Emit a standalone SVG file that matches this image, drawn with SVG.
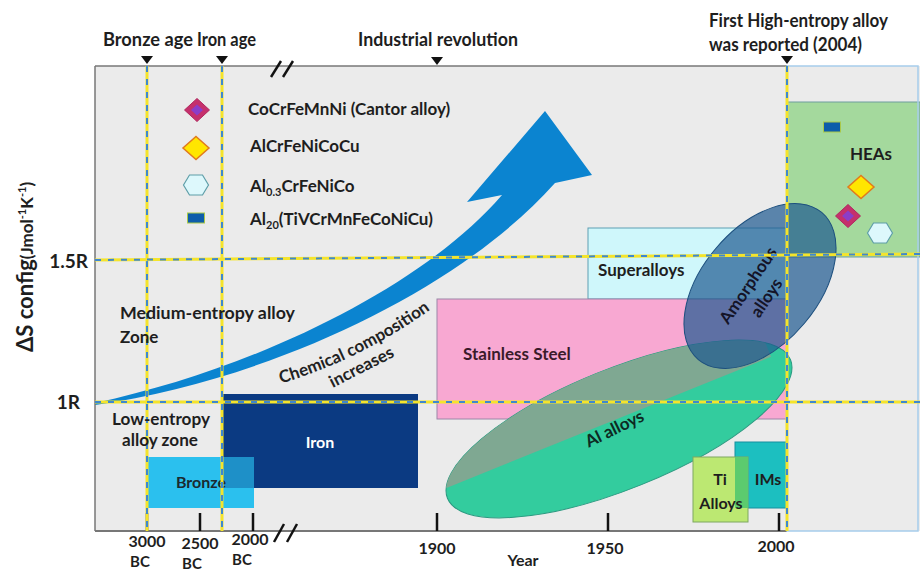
<svg xmlns="http://www.w3.org/2000/svg" width="920" height="571" viewBox="0 0 920 571">
<style>
text{font-family:Lato,"Liberation Sans","DejaVu Sans",sans-serif;font-weight:700;fill:#1e1e1e;}
.t18{font-size:18px;}
.t17{font-size:17px;}
.t16{font-size:16px;}
.t15{font-size:15px;}
.ax{stroke:#777;stroke-width:1.5;fill:none;}
.tick{stroke:#111;stroke-width:2.5;}
.dy{stroke:#F4E42C;stroke-width:3;fill:none;}
.db{stroke:#3E88CF;stroke-width:2;stroke-dasharray:6 7;fill:none;}
.brk{stroke:#111;stroke-width:2.5;}
</style>
<defs>
<g id="cantor"><polygon points="0,-11.5 12.5,0 0,11.5 -12.5,0" fill="#C5306C" stroke="#B0285E" stroke-width="1"/><polygon points="0,-5.5 6,0 0,5.5 -6,0" fill="#8B3DC8"/></g>
<g id="ydia"><polygon points="0,-11.5 13,0 0,11.5 -13,0" fill="#FFE600" stroke="#E07A1E" stroke-width="1.5"/></g>
<g id="hex"><polygon points="-12.5,0 -6.5,-10 6.5,-10 12.5,0 6.5,10 -6.5,10" fill="#DDF8FC" stroke="#5E9EA8" stroke-width="1.2"/></g>
<g id="brect"><rect x="-8.5" y="-5" width="17" height="10" fill="#0D5DAA" stroke="#A9C84A" stroke-width="1"/></g>
<clipPath id="pinkClip"><rect x="437" y="299" width="350" height="120"/></clipPath>
</defs>

<!-- background plot area -->
<rect x="0" y="0" width="920" height="571" fill="#fff"/>
<rect x="95" y="66" width="825" height="465" fill="#EBEBEB"/>

<!-- boxes -->
<g id="node-hea"><rect x="787" y="102" width="133" height="155" fill="#A4D99D" stroke="#6E9E9E" stroke-width="1"/><text class="t17" x="871" y="160" text-anchor="middle">HEAs</text></g>
<g id="node-superalloys"><rect x="588" y="228" width="199" height="71" fill="#CFF7FB" stroke="#5F9FB4" stroke-width="1"/><text class="t17" x="598" y="276">Superalloys</text></g>
<g id="node-stainless"><rect x="437" y="299" width="350" height="120" fill="#F8A8D2" stroke="#9C86A8" stroke-width="1"/><text class="t17" x="463" y="360" style="fill:#3a1a2a">Stainless Steel</text></g>
<g id="node-al">
<ellipse cx="619" cy="429" rx="185" ry="60" transform="rotate(-22 619 429)" fill="#33CC9E" stroke="#2a9a80" stroke-width="1"/>
<ellipse cx="619" cy="429" rx="185" ry="60" transform="rotate(-22 619 429)" fill="#7FA892" clip-path="url(#pinkClip)"/>
<text class="t17" x="617" y="434" text-anchor="middle" transform="rotate(-26 617 434)" style="fill:#0d2a22">Al alloys</text>
</g>
<g id="node-ims"><rect x="735" y="442" width="52" height="66" fill="#1CBFC0" stroke="#1590A0" stroke-width="1"/><text class="t16" x="768" y="485" text-anchor="middle">IMs</text></g>
<g id="node-ti"><rect x="693" y="457" width="55" height="65" fill="#BCE872" stroke="#7FA860" stroke-width="1"/><rect x="735" y="457" width="13" height="51" fill="#5CCB6E"/><text class="t16" x="720" y="485" text-anchor="middle">Ti</text><text class="t16" x="721" y="509" text-anchor="middle">Alloys</text></g>
<g id="node-iron"><rect x="223" y="394" width="195" height="94" fill="#0B3A82"/><text class="t16" x="320" y="448" text-anchor="middle" style="fill:#fff">Iron</text></g>
<g id="node-bronze"><rect x="148" y="457" width="106" height="51" fill="#2BC0EE"/><rect x="223" y="457" width="31" height="31" fill="#1E90C8"/><text class="t16" x="201" y="488" text-anchor="middle" style="fill:#1a2a30">Bronze</text></g>
<g id="node-amorphous">
<ellipse cx="760" cy="286" rx="96" ry="58" transform="rotate(-50 760 286)" fill="#1C5890" fill-opacity="0.7" stroke="#1C4F7E" stroke-width="1"/>
<g transform="translate(758 292) rotate(-56)"><text class="t17" x="0" y="-6" text-anchor="middle" style="fill:#141428">Amorphous</text><text class="t17" x="0" y="16" text-anchor="middle" style="fill:#141428">alloys</text></g>
</g>

<!-- arrow -->
<g id="node-arrow">
<path d="M95,403 C250,370 420,290 502,195 L467,202 L545,111 L592,175 L555,183 C460,290 270,380 95,405 Z" fill="#0B84D0"/>
<path id="curvePath" d="M272,386 Q360,362 438,304" fill="none"/>
<text class="t17" style="fill:#222"><textPath href="#curvePath" startOffset="50%" text-anchor="middle">Chemical composition</textPath></text>
<text class="t17" x="364" y="372" text-anchor="middle" transform="rotate(-27 364 372)" style="fill:#222">increases</text>
</g>

<!-- axes and frame -->
<g id="axes">
<line class="ax" x1="95" y1="66" x2="787" y2="66"/>
<line class="ax" x1="95" y1="66" x2="95" y2="531"/>
<line x1="95" y1="531" x2="787" y2="531" stroke="#777" stroke-width="2"/>
<rect x="787" y="66" width="131" height="465" fill="none" stroke="#A6CDEB" stroke-width="1.5"/>
<line class="tick" x1="147" y1="513" x2="147" y2="531"/>
<line class="tick" x1="200" y1="513" x2="200" y2="531"/>
<line class="tick" x1="253" y1="513" x2="253" y2="531"/>
<line class="tick" x1="437" y1="513" x2="437" y2="531"/>
<line class="tick" x1="608" y1="513" x2="608" y2="531"/>
<line class="tick" x1="779" y1="513" x2="779" y2="531"/>
<line class="brk" x1="271" y1="77" x2="281" y2="61"/><line class="brk" x1="283" y1="77" x2="293" y2="61"/>
<line class="brk" x1="274" y1="542" x2="284" y2="524"/><line class="brk" x1="287" y1="542" x2="297" y2="524"/>
<polygon points="141,56 153,56 147,64" fill="#111"/>
<polygon points="216,56 228,56 222,64" fill="#111"/>
<polygon points="431,57 443,57 437,65" fill="#111"/>
<polygon points="781,56 793,56 787,64" fill="#111"/>
</g>

<!-- dashed guide lines -->
<g id="connectors">
<line class="dy" x1="147" y1="66" x2="147" y2="531"/><line class="db" x1="147" y1="66" x2="147" y2="531"/>
<line class="dy" x1="222" y1="66" x2="222" y2="531"/><line class="db" x1="222" y1="66" x2="222" y2="531"/>
<line class="dy" x1="787" y1="66" x2="787" y2="531"/><line class="db" x1="787" y1="66" x2="787" y2="531"/>
<line class="dy" x1="95" y1="260" x2="920" y2="254"/><line class="db" x1="95" y1="260" x2="920" y2="254"/>
<line class="dy" x1="95" y1="402" x2="920" y2="402"/><line class="db" x1="95" y1="402" x2="920" y2="402"/>
</g>

<!-- legend -->
<g id="legend">
<use href="#cantor" x="197" y="110"/>
<use href="#ydia" x="196" y="148"/>
<use href="#hex" x="196" y="185"/>
<use href="#brect" x="196" y="218"/>
<text class="t17" x="248" y="115">CoCrFeMnNi (Cantor alloy)</text>
<text class="t17" x="250" y="152">AlCrFeNiCoCu</text>
<text class="t17" x="250" y="192">Al<tspan font-size="11" dy="4">0.3</tspan><tspan dy="-4">CrFeNiCo</tspan></text>
<text class="t17" x="250" y="225">Al<tspan font-size="11" dy="4">20</tspan><tspan dy="-4">(TiVCrMnFeCoNiCu)</tspan></text>
</g>

<!-- HEA markers -->
<g id="hea-markers">
<use href="#brect" x="832" y="127"/>
<use href="#ydia" x="861" y="187"/>
<use href="#cantor" x="848" y="216"/>
<use href="#hex" x="880" y="233"/>
</g>

<!-- labels -->
<g id="labels">
<text class="t18" x="103" y="46" textLength="90" lengthAdjust="spacingAndGlyphs">Bronze age</text>
<text class="t18" x="197" y="46" textLength="59" lengthAdjust="spacingAndGlyphs">Iron age</text>
<text class="t18" x="358" y="46" textLength="160" lengthAdjust="spacingAndGlyphs">Industrial revolution</text>
<text class="t18" x="709" y="27" textLength="179" lengthAdjust="spacingAndGlyphs">First High-entropy alloy</text>
<text class="t18" x="709" y="51" textLength="153" lengthAdjust="spacingAndGlyphs">was reported (2004)</text>
<text x="88" y="268" text-anchor="end" font-size="19">1.5R</text>
<text x="80" y="409" text-anchor="end" font-size="19">1R</text>
<text class="t17" x="120" y="319" textLength="175" lengthAdjust="spacingAndGlyphs">Medium-entropy alloy</text>
<text class="t17" x="120" y="343">Zone</text>
<text class="t17" x="112" y="425" textLength="98" lengthAdjust="spacingAndGlyphs">Low-entropy</text>
<text class="t17" x="122" y="446" textLength="76" lengthAdjust="spacingAndGlyphs">alloy zone</text>
<text class="t16" x="147" y="547" text-anchor="middle">3000</text>
<text class="t15" x="140" y="567" text-anchor="middle">BC</text>
<text class="t16" x="200" y="549" text-anchor="middle">2500</text>
<text class="t15" x="192" y="569" text-anchor="middle">BC</text>
<text class="t16" x="250" y="545" text-anchor="middle">2000</text>
<text class="t15" x="242" y="565" text-anchor="middle">BC</text>
<text class="t16" x="437" y="554" text-anchor="middle">1900</text>
<text class="t16" x="605" y="554" text-anchor="middle">1950</text>
<text class="t16" x="776" y="552" text-anchor="middle">2000</text>
<text class="t16" x="523" y="566" text-anchor="middle">Year</text>
<text transform="translate(33 267) rotate(-90)" text-anchor="middle"><tspan font-size="22">ΔS config</tspan><tspan font-size="17">(Jmol</tspan><tspan font-size="11" dy="-7">-1</tspan><tspan font-size="17" dy="7">K</tspan><tspan font-size="11" dy="-7">-1</tspan><tspan font-size="17" dy="7">)</tspan></text>
</g>
</svg>
